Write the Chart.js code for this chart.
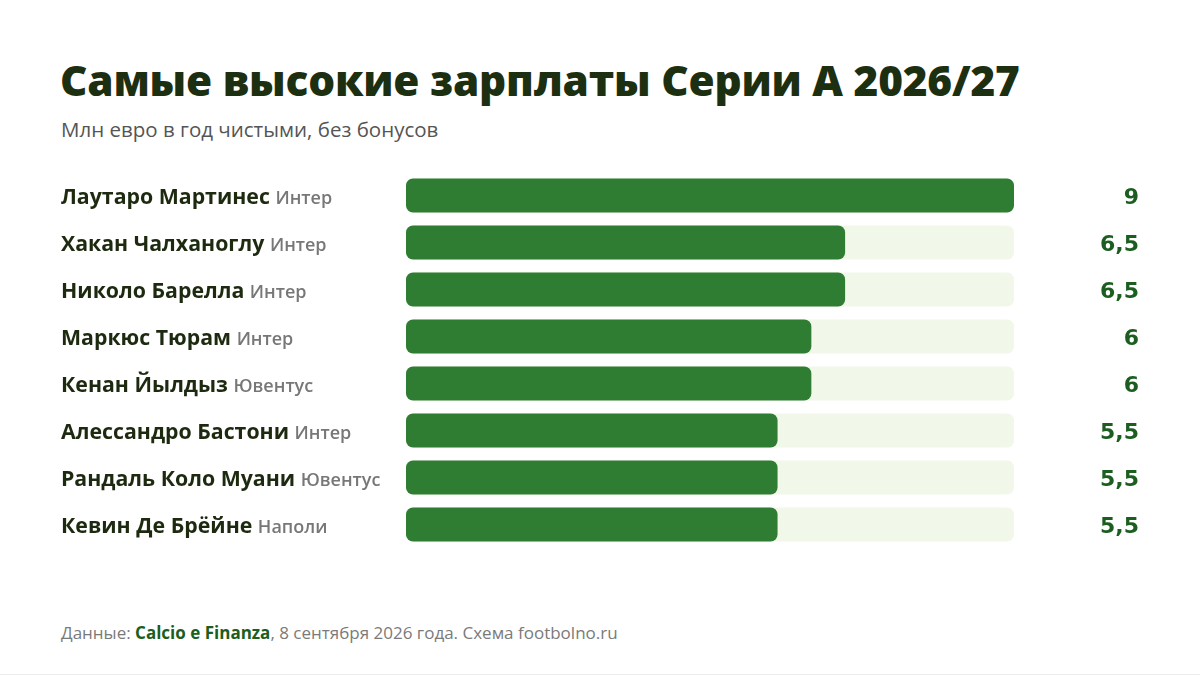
<!DOCTYPE html>
<html lang="ru">
<head>
    <meta charset="UTF-8">
    <title>Самые высокие зарплаты Серии А 2026/27</title>
    <script src="https://cdn.jsdelivr.net/npm/chart.js@4.4.1/dist/chart.umd.min.js"></script>
    <style>
        html, body {
            margin: 0;
            padding: 0;
            background: #fff;
        }
        .page {
            position: relative;
            width: 1200px;
            height: 674px;
            border-bottom: 1px solid #ececec;
            font-family: "Open Sans", sans-serif;
            overflow: hidden;
        }
        h1 {
            position: absolute;
            left: 60px;
            top: 51px;
            margin: 0;
            font-size: 42.3px;
            font-weight: 800;
            color: #1d2f11;
            letter-spacing: -0.2px;
        }
        .sub {
            position: absolute;
            left: 61px;
            top: 115px;
            font-size: 20.5px;
            color: #555;
        }
        .chart-box {
            position: absolute;
            left: 0;
            top: 150px;
            width: 1200px;
            height: 420px;
        }
        .foot {
            position: absolute;
            left: 61px;
            top: 621px;
            font-size: 17px;
            color: #7a7a7a;
        }
        .foot b {
            color: #1b5e20;
        }
    </style>
</head>
<body>
<div class="page">
    <h1>Самые высокие зарплаты Серии А 2026/27</h1>
    <div class="sub">Млн евро в год чистыми, без бонусов</div>
    <div class="chart-box"><canvas id="salaryChart"></canvas></div>
    <div class="foot">Данные: <b>Calcio e Finanza</b>, 8 сентября 2026 года. Схема footbolno.ru</div>
</div>

<script>
    // data
    const players = ['Лаутаро Мартинес', 'Хакан Чалханоглу', 'Николо Барелла', 'Маркюс Тюрам',
        'Кенан Йылдыз', 'Алессандро Бастони', 'Рандаль Коло Муани', 'Кевин Де Брёйне'];
    const clubs = ['Интер', 'Интер', 'Интер', 'Интер', 'Ювентус', 'Интер', 'Ювентус', 'Наполи'];
    const salaries = [9, 6.5, 6.5, 6, 6, 5.5, 5.5, 5.5];
    const scaleMax = 9;

    const fmt = v => String(v).replace('.', ',');

    // names + club on the left, value on the right
    const sideLabels = {
        id: 'sideLabels',
        afterDatasetsDraw(chart) {
            const c = chart.ctx;
            const meta = chart.getDatasetMeta(1);
            c.save();
            c.textBaseline = 'middle';
            meta.data.forEach((bar, i) => {
                const y = bar.y;
                c.textAlign = 'left';
                c.font = '700 21.3px "Open Sans"';
                c.fillStyle = '#1d2a10';
                c.fillText(players[i], 61, y + 2);
                const w = c.measureText(players[i] + ' ').width;
                c.font = '600 18px "Open Sans"';
                c.fillStyle = '#777';
                c.fillText(clubs[i], 61 + w, y + 3);

                c.textAlign = 'right';
                c.font = 'bold 22px "DejaVu Sans"';
                c.fillStyle = '#1b5e20';
                c.fillText(fmt(salaries[i]), 1139, y + 3);
            });
            c.restore();
        }
    };

    new Chart(document.getElementById('salaryChart'), {
        type: 'bar',
        data: {
            labels: players,
            datasets: [
                {
                    label: 'track',
                    data: players.map(() => scaleMax),
                    backgroundColor: '#f1f7e9',
                    borderRadius: 7,
                    borderSkipped: false,
                    order: 2
                },
                {
                    label: 'Млн евро',
                    data: salaries,
                    backgroundColor: '#2e7d32',
                    borderRadius: 7,
                    borderSkipped: false,
                    order: 1
                }
            ]
        },
        options: {
            indexAxis: 'y',
            responsive: true,
            maintainAspectRatio: false,
            animation: false,
            layout: {
                padding: { left: 406, right: 186, top: 22, bottom: 22 }
            },
            datasets: {
                bar: {
                    grouped: false,
                    categoryPercentage: 1,
                    barPercentage: 0.723
                }
            },
            scales: {
                x: { display: false, min: 0, max: scaleMax },
                y: { display: false }
            },
            plugins: {
                legend: { display: false },
                tooltip: { enabled: false }
            }
        },
        plugins: [sideLabels]
    });
</script>
</body>
</html>
